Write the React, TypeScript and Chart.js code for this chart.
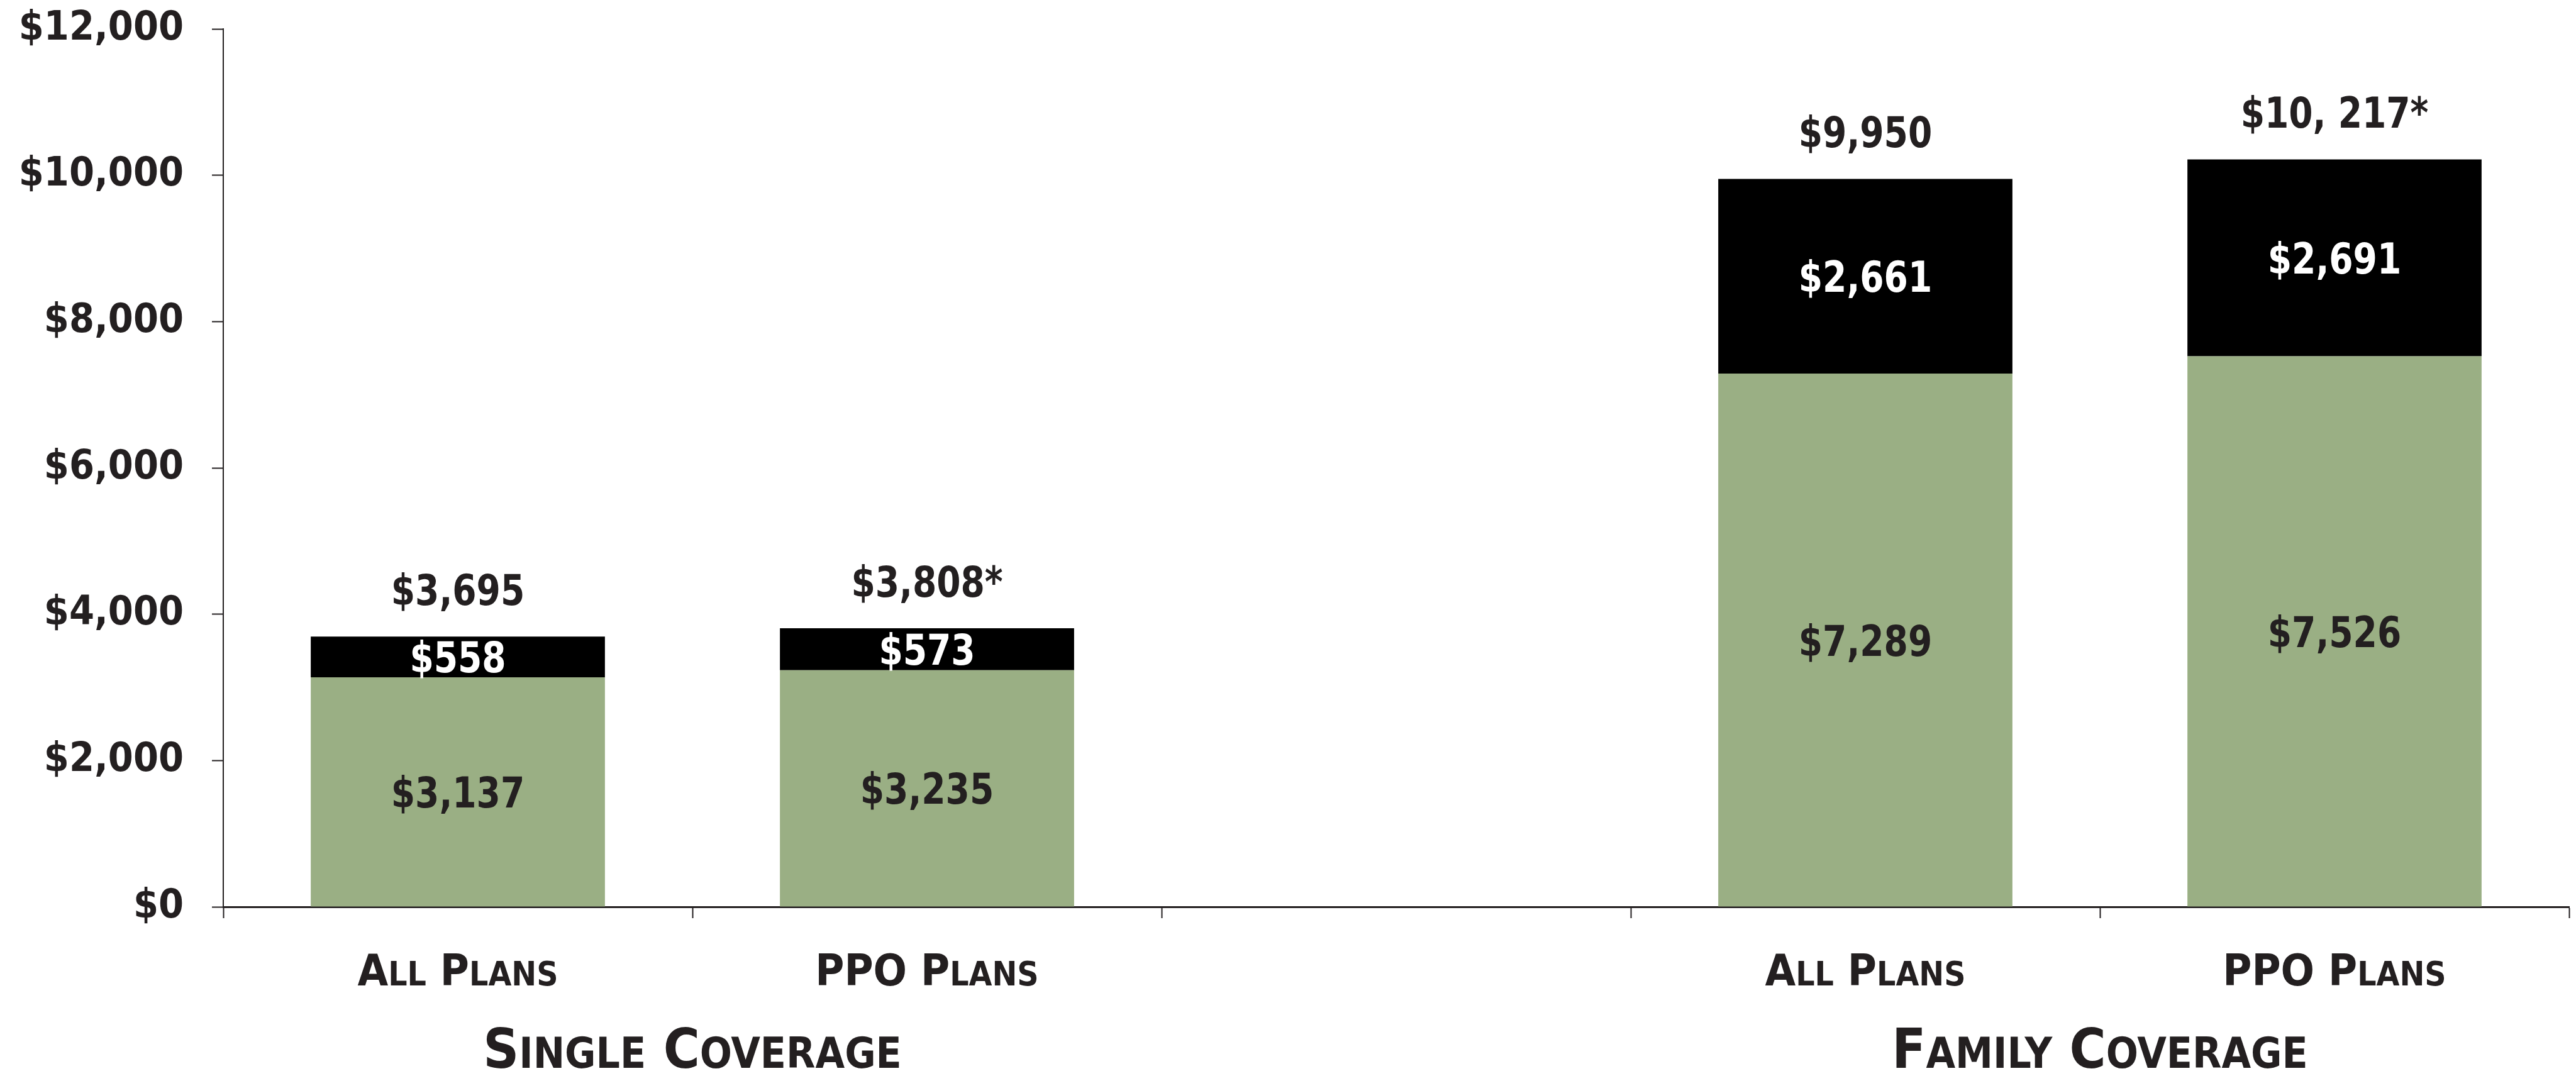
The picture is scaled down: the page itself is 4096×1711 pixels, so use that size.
import React, { useEffect, useRef } from 'react';
import { Chart, registerables } from 'chart.js';

Chart.register(...registerables);

// ---- data ----
const categories = ['All Plans', 'PPO Plans', '', 'All Plans', 'PPO Plans'];
const employerContribution: (number | null)[] = [3137, 3235, null, 7289, 7526];
const workerContribution: (number | null)[] = [558, 573, null, 2661, 2691];
const totalLabels = ['$3,695', '$3,808*', '', '$9,950', '$10, 217*'];
const groupLabels = ['Single Coverage', 'Family Coverage'];
const groupMembers = [[0, 1], [3, 4]];
const yMin = 0;
const yMax = 12000;
const yStep = 2000;

// ---- style ----
const FONT = "'DejaVu Sans Condensed', 'DejaVu Sans', sans-serif";
const TEXT = '#231F20';
const GREEN = '#9AAF84';
const BLACK = '#000000';

const fmt = (v: number) => '$' + v.toLocaleString('en-US');

function drawNumber(ctx: CanvasRenderingContext2D, text: string, cx: number, cy: number, size: number, color: string, sx = 0.9) {
  ctx.save();
  ctx.font = `bold ${size}px ${FONT}`;
  ctx.fillStyle = color;
  ctx.textAlign = 'center';
  ctx.textBaseline = 'alphabetic';
  ctx.translate(cx, cy + size * 0.365);
  ctx.scale(sx, 1);
  ctx.fillText(text, 0, 0);
  ctx.restore();
}

function drawSmallCaps(ctx: CanvasRenderingContext2D, text: string, cx: number, baseline: number, big: number, small: number, color: string) {
  const runs: { t: string; s: number }[] = [];
  for (const ch of text) {
    const isLower = ch !== ch.toUpperCase();
    const s = isLower ? small : big;
    const t = ch.toUpperCase();
    if (runs.length && runs[runs.length - 1].s === s) runs[runs.length - 1].t += t;
    else runs.push({ t, s });
  }
  ctx.save();
  ctx.fillStyle = color;
  ctx.textAlign = 'left';
  ctx.textBaseline = 'alphabetic';
  let total = 0;
  const widths = runs.map((r) => {
    ctx.font = `bold ${r.s}px ${FONT}`;
    const w = ctx.measureText(r.t).width;
    total += w;
    return w;
  });
  let x = cx - total / 2;
  runs.forEach((r, i) => {
    ctx.font = `bold ${r.s}px ${FONT}`;
    ctx.fillText(r.t, x, baseline);
    x += widths[i];
  });
  ctx.restore();
}

const labelPlugin = {
  id: 'valueLabels',
  afterDatasetsDraw(chart: any) {
    const ctx: CanvasRenderingContext2D = chart.ctx;
    const xs = chart.scales.x;
    const m0 = chart.getDatasetMeta(0);
    const m1 = chart.getDatasetMeta(1);
    categories.forEach((_c, i) => {
      const e = employerContribution[i];
      const w = workerContribution[i];
      if (e == null || w == null) return;
      const b0 = m0.data[i];
      const b1 = m1.data[i];
      drawNumber(ctx, fmt(e), b0.x, (b0.y + b0.base) / 2, 68, TEXT);
      drawNumber(ctx, fmt(w), b1.x, (b1.y + b1.base) / 2, 68, '#FFFFFF');
      drawNumber(ctx, totalLabels[i], b1.x, b1.y - 75, 68, TEXT);
    });
    categories.forEach((c, i) => {
      if (!c) return;
      drawSmallCaps(ctx, c, xs.getPixelForValue(i), 1567, 70, 53, TEXT);
    });
    groupLabels.forEach((g, gi) => {
      const idx = groupMembers[gi];
      const cx = (xs.getPixelForValue(idx[0]) + xs.getPixelForValue(idx[idx.length - 1])) / 2;
      drawSmallCaps(ctx, g, cx, 1698, 88, 67, TEXT);
    });
  },
};

export default function App() {
  const ref = useRef<HTMLCanvasElement | null>(null);
  useEffect(() => {
    if (!ref.current) return;
    const chart = new Chart(ref.current, {
      type: 'bar',
      data: {
        labels: categories,
        datasets: [
          {
            label: 'Employer Contribution',
            data: employerContribution,
            backgroundColor: GREEN,
            borderWidth: 0,
            barPercentage: 0.627,
            categoryPercentage: 1.0,
          },
          {
            label: 'Worker Contribution',
            data: workerContribution,
            backgroundColor: BLACK,
            borderWidth: 0,
            barPercentage: 0.627,
            categoryPercentage: 1.0,
          },
        ],
      },
      options: {
        animation: false,
        responsive: false,
        maintainAspectRatio: false,
        devicePixelRatio: 1,
        layout: { padding: { top: 46, right: 11, left: 0, bottom: 0 } },
        plugins: { legend: { display: false }, tooltip: { enabled: false } },
        scales: {
          x: {
            stacked: true,
            grid: {
              display: true,
              drawOnChartArea: false,
              drawTicks: true,
              tickLength: 18,
              tickWidth: 2,
              tickColor: TEXT,
              offset: true,
            },
            border: { display: true, color: TEXT, width: 3 },
            ticks: { display: false },
            afterFit: (s: any) => {
              s.height = 269;
            },
          },
          y: {
            stacked: true,
            min: yMin,
            max: yMax,
            ticks: {
              stepSize: yStep,
              padding: 45,
              color: TEXT,
              font: { family: FONT, weight: 'bold', size: 64 },
              callback: (v: any) => fmt(Number(v)),
            },
            grid: {
              drawOnChartArea: false,
              drawTicks: true,
              tickLength: 18,
              tickWidth: 2,
              tickColor: TEXT,
            },
            border: { display: true, color: TEXT, width: 2 },
            afterFit: (s: any) => {
              s.width = 355;
              s.paddingTop = 0;
              s.paddingBottom = 0;
            },
          },
        },
      } as any,
      plugins: [labelPlugin],
    });
    return () => chart.destroy();
  }, []);
  return (
    <div style={{ position: 'fixed', left: 0, top: 0, width: 4096, height: 1711, background: '#fff' }}>
      <canvas ref={ref} width={4096} height={1711} style={{ display: 'block', width: 4096, height: 1711 }} />
    </div>
  );
}
